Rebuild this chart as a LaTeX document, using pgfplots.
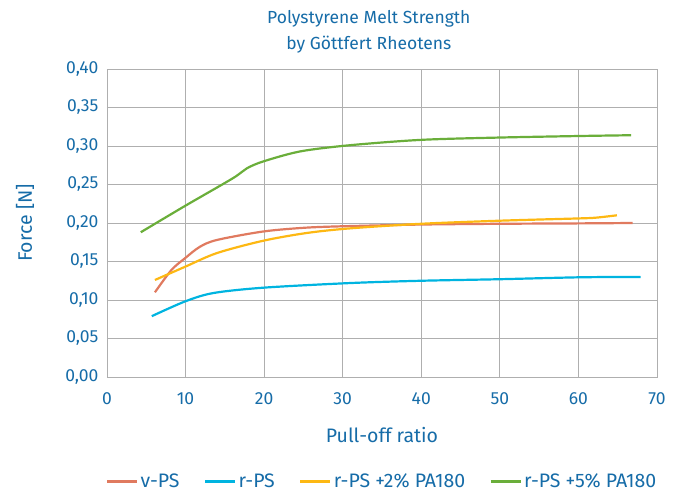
\documentclass[border=0pt]{standalone}
\usepackage{pgfplots}
\pgfplotsset{compat=1.18}
\usepackage{fontspec}
\setmainfont{Fira Sans}
\definecolor{txtblue}{RGB}{22,108,168}
\definecolor{cvps}{RGB}{224,122,95}
\definecolor{crps}{RGB}{0,180,224}
\definecolor{crps2}{RGB}{253,184,19}
\definecolor{crps5}{RGB}{106,174,58}
\definecolor{gridgray}{RGB}{175,175,175}
\begin{document}
\begin{tikzpicture}[x=1pt,y=1pt]
\useasboundingbox (-107,-114) rectangle (575,377);
\begin{axis}[
    at={(0,0)}, anchor=south west,
    scale only axis,
    width=550pt, height=308pt,
    xmin=0, xmax=70, ymin=0, ymax=0.40,
    xtick={0,10,...,70},
    ytick={0,0.05,...,0.40},
    grid=major,
    grid style={gridgray, line width=0.8pt},
    axis line style={gridgray, line width=0.8pt},
    major tick length=0pt,
    /pgf/number format/assume math mode=true,
    yticklabel style={/pgf/number format/.cd, fixed, fixed zerofill, precision=2, use comma, /tikz/.cd, xshift=-5pt},
    xticklabel style={/pgf/number format/.cd, fixed, precision=0, /tikz/.cd, yshift=-12pt},
    ticklabel style={font=\fontsize{17.5}{20}\selectfont, text=txtblue},
    xlabel={Pull-off ratio},
    ylabel={Force [N]},
    label style={font=\fontsize{19.5}{22}\selectfont, text=txtblue},
    xlabel style={at={(axis description cs:0.5,-0.188)}, anchor=center},
    ylabel style={at={(axis description cs:-0.149,0.5)}, anchor=center, rotate=0},
    title={Polystyrene Melt Strength\\by Göttfert Rheotens},
    title style={font=\fontsize{17.5}{26}\selectfont, text=txtblue, align=center,
        at={(axis description cs:0.476,1.10)}, anchor=center},
    legend style={at={(0.5,-0.338)}, anchor=center, draw=none, legend columns=-1,
        font=\fontsize{19.5}{22}\selectfont, text=txtblue,
        /tikz/every even column/.append style={column sep=22pt}},
    legend image code/.code={\draw[#1, line width=3pt] (0pt,0pt) -- (30pt,0pt);},
    every axis plot/.append style={line width=2.2pt, smooth, no markers},
]
\addplot[cvps] coordinates {
    (6.1,0.110) (8.2,0.139) (9.9,0.154) (11.8,0.169) (14.0,0.178) (19.9,0.189)
    (25.4,0.194) (30.9,0.196) (40,0.198) (50,0.199) (60,0.1995) (66.9,0.200)
};
\addlegendentry{v-PS}
\addplot[crps] coordinates {
    (5.7,0.079) (9.9,0.098) (13.5,0.109) (19.9,0.116) (30.9,0.122)
    (40,0.125) (50,0.127) (60.2,0.1295) (67.9,0.130)
};
\addlegendentry{r-PS}
\addplot[crps2] coordinates {
    (6.1,0.126) (9.9,0.143) (14.0,0.161) (19.9,0.177) (25.4,0.187) (30.9,0.193)
    (40,0.199) (50,0.203) (60.2,0.206) (62.3,0.207) (64.9,0.210)
};
\addlegendentry{r-PS +2\% PA180}
\addplot[crps5] coordinates {
    (4.3,0.188) (9.9,0.222) (16.0,0.258) (17.8,0.271) (19.9,0.280) (24.6,0.293)
    (30.9,0.301) (40,0.308) (50,0.311) (60.2,0.313) (66.7,0.314)
};
\addlegendentry{r-PS +5\% PA180}
\end{axis}
\end{tikzpicture}
\end{document}
